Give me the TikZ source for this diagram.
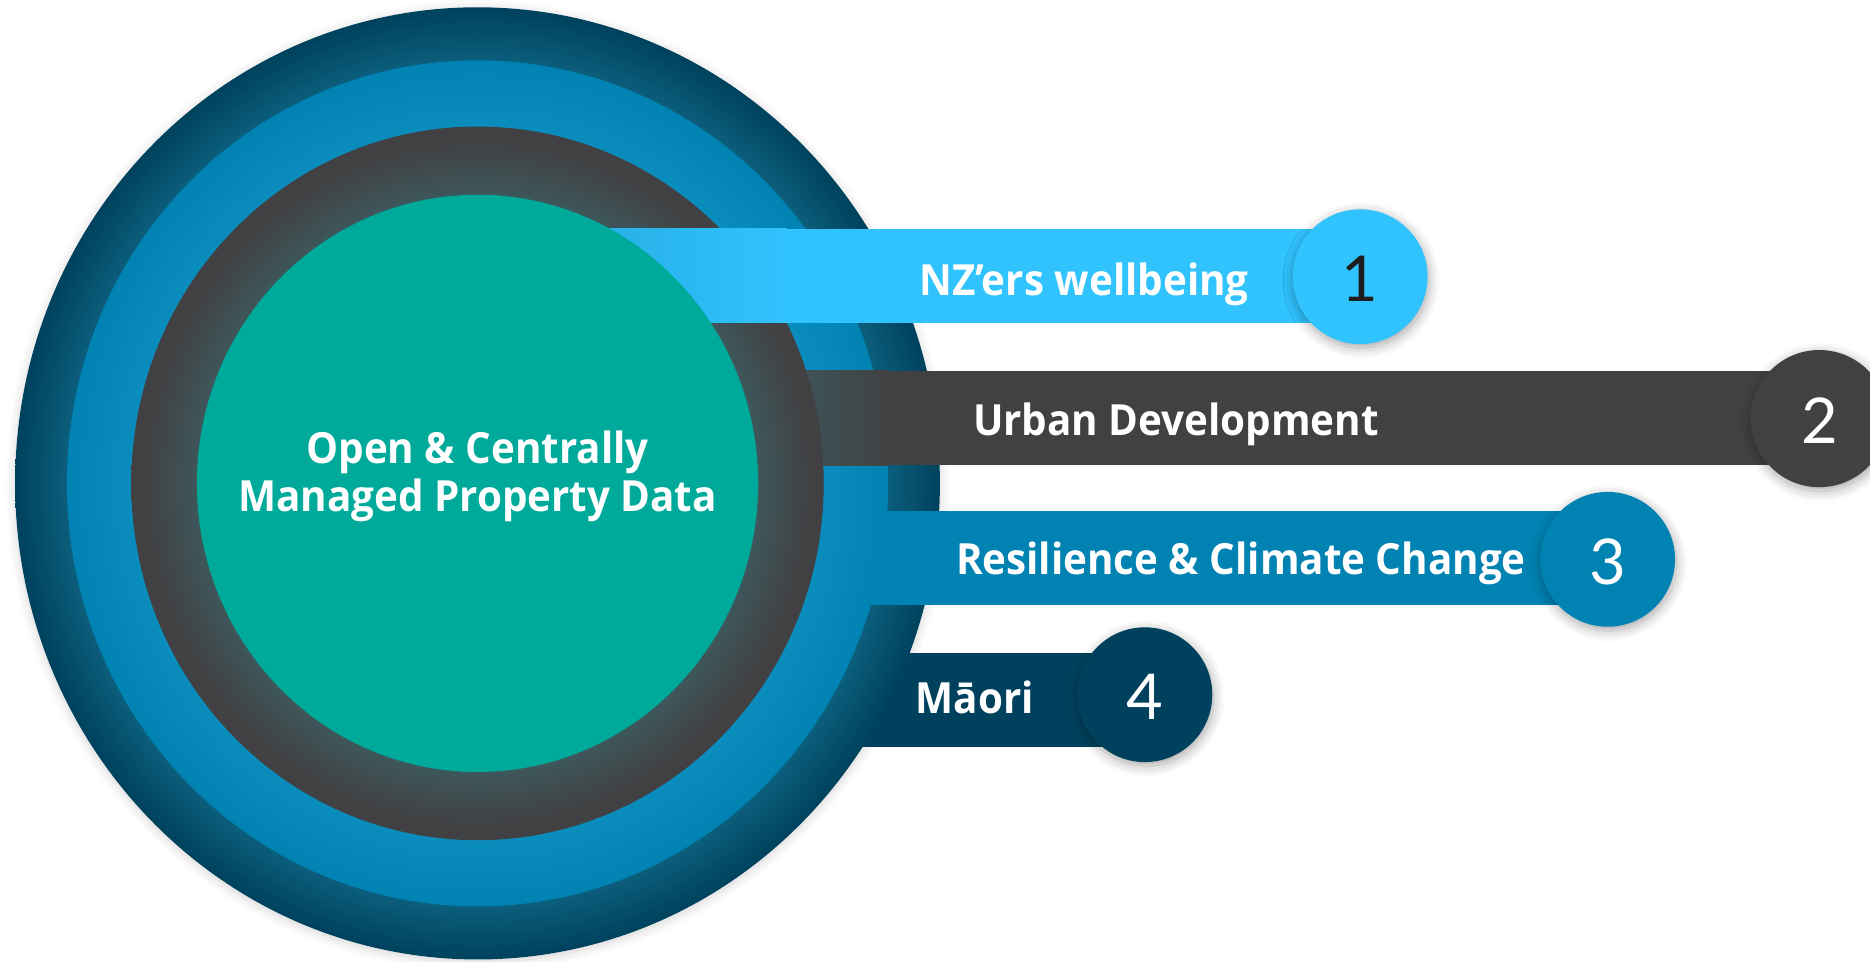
\documentclass[tikz,border=0pt]{standalone}
\usepackage{fontspec}
\setmainfont{Open Sans}[BoldFeatures={FakeStretch=0.94}]
\newfontfamily\numfont{Lato}
\usetikzlibrary{shadows.blur}
\definecolor{navy}{HTML}{00425D}
\definecolor{navytint}{HTML}{0B5E7C}
\definecolor{midblue}{HTML}{0083B3}
\definecolor{bluetint}{HTML}{0A8CBC}
\definecolor{graybar}{HTML}{414143}
\definecolor{graytint}{HTML}{3D575B}
\definecolor{graymid}{HTML}{404A4D}
\definecolor{tealc}{HTML}{00AA9A}
\definecolor{sky}{HTML}{31C3FE}
\definecolor{skydark}{HTML}{27AFE6}
\definecolor{numdark}{HTML}{1E1E1E}
\pgfdeclareradialshading{outerring}{\pgfpoint{0bp}{0bp}}{color(0bp)=(navytint); color(22.2bp)=(navytint); color(25bp)=(navy); color(50bp)=(navy)}
\pgfdeclareradialshading{bluering}{\pgfpoint{0bp}{0bp}}{color(0bp)=(bluetint); color(21.1bp)=(bluetint); color(25bp)=(midblue); color(50bp)=(midblue)}
\pgfdeclareradialshading{grayring}{\pgfpoint{0bp}{0bp}}{color(0bp)=(graytint); color(20.25bp)=(graytint); color(22.3bp)=(graymid); color(24bp)=(graybar); color(50bp)=(graybar)}
\tikzset{
  lbl/.style={text=white, font=\fontsize{36}{40}\selectfont\bfseries, inner sep=0pt},
  num/.style={font=\numfont\fontsize{53}{60}\selectfont, inner sep=0pt},
  badge/.style={circle, minimum size=113pt, inner sep=0pt,
    blur shadow={shadow xshift=1pt, shadow yshift=-3pt, shadow blur radius=9pt, shadow opacity=35}},
  ringshadow/.style={blur shadow={shadow xshift=0pt, shadow yshift=-2pt, shadow blur radius=8pt, shadow opacity=18}}
}
\begin{document}
\begin{tikzpicture}[x=1pt,y=-1pt]
\useasboundingbox (0,0) rectangle (1568,806);
\coordinate (C) at (400.4,405.3);
% soft shadow of the outer disc
\fill[white, ringshadow] (C) ellipse [x radius=387.7pt, y radius=399.2pt];
% bar 4 (under outer ring)
\fill[navy] (400,547.6) rectangle (960,626);
% outer ring
\shade[shading=outerring] (C) ellipse [x radius=387.7pt, y radius=399.2pt];
% bar 3 (under blue ring)
\fill[midblue] (400,428.5) rectangle (1348,507.3);
% blue ring
\shade[shading=bluering] (C) ellipse [x radius=344.3pt, y radius=354.7pt];
% bar 2 (under gray ring)
\fill[graybar] (400,311) rectangle (1525,390);
\shade[left color=graytint, right color=graybar] (660,311) rectangle (745,390);
% gray ring
\shade[shading=grayring] (C) ellipse [x radius=290.3pt, y radius=299.2pt];
% bar 1 (under teal disc)
\fill[sky] (400,192) rectangle (1140,270.6);
\shade[left color=skydark, right color=sky] (500,192) rectangle (660,270.6);
% teal disc
\fill[tealc] (C) ellipse [x radius=235.3pt, y radius=242pt];

% badges
\node[badge, fill=sky] (b1) at (1140.5,232) {};
\node[badge, fill=graybar, minimum size=115pt] (b2) at (1525.5,351) {};
\node[badge, fill=midblue] (b3) at (1348,469) {};
\node[badge, fill=navy] (b4) at (960,582.5) {};

\node[num, text=numdark, anchor=base] (n1) at ([yshift=-21pt]b1.center) {1};
\node[num, text=white, anchor=base] (n2) at ([yshift=-21pt]b2.center) {2};
\node[num, text=white, anchor=base] (n3) at ([yshift=-21pt]b3.center) {3};
\node[num, text=white, anchor=base] (n4) at ([yshift=-21pt]b4.center) {4};

% labels
\node[lbl, anchor=base] (t1) at (909,247.4) {NZ’ers wellbeing};
\node[lbl, anchor=base] (t2) at (986,365) {Urban Development};
\node[lbl, anchor=base] (t3) at (1040.5,481.6) {Resilience \& Climate Change};
\node[lbl, anchor=base] (t4) at (817.5,598) {Māori};
\node[lbl, anchor=base] (c1) at (400.4,388.4) {Open \& Centrally};
\node[lbl, anchor=base] (c2) at (400.4,429) {Managed Property Data};
\end{tikzpicture}
\end{document}
